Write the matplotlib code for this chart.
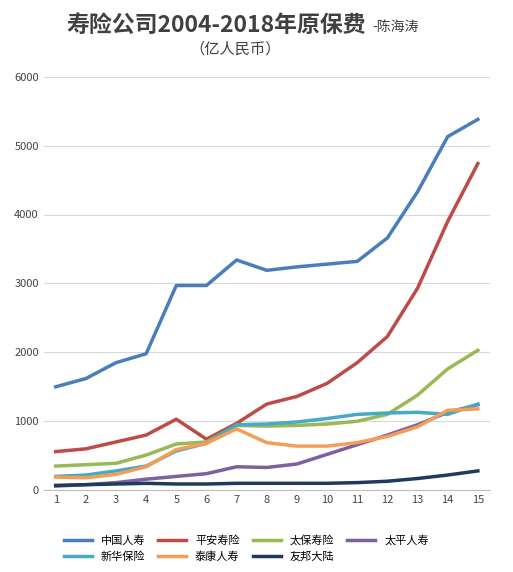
import matplotlib.pyplot as plt

plt.rcParams['font.family'] = ['Noto Sans CJK SC', 'DejaVu Sans']

years = list(range(1, 16))
names = ["中国人寿", "平安寿险", "太保寿险", "太平人寿", "新华保险", "泰康人寿", "友邦大陆"]
colors = ["#4a7ebb", "#be4b48", "#98b954", "#7d60a0", "#46aac5", "#f59d56", "#1f3a5f"]
china_life = [1500, 1620, 1850, 1980, 2970, 2970, 3340, 3190, 3240, 3280, 3320, 3660, 4330, 5130, 5380]
pingan = [560, 600, 700, 800, 1030, 740, 970, 1250, 1360, 1550, 1850, 2230, 2930, 3900, 4740]
cpic = [350, 370, 390, 510, 670, 700, 940, 930, 940, 960, 1000, 1100, 1380, 1760, 2030]
taiping = [60, 80, 110, 160, 200, 240, 340, 330, 380, 520, 660, 800, 950, 1130, 1240]
xinhua = [200, 220, 280, 350, 570, 680, 950, 960, 990, 1040, 1100, 1120, 1130, 1100, 1250]
taikang = [190, 180, 230, 340, 590, 680, 890, 690, 640, 640, 690, 780, 920, 1160, 1180]
aia = [70, 80, 90, 100, 90, 90, 100, 100, 100, 100, 110, 130, 170, 220, 280]
series = [china_life, pingan, cpic, taiping, xinhua, taikang, aia]

fig = plt.figure(figsize=(5.13, 5.72), dpi=100)
ax = fig.add_axes([0.085, 0.143, 0.87, 0.723])
lines = []
for name, vals, c in zip(names, series, colors):
    ln, = ax.plot(years, vals, color=c, lw=2.5, label=name)
    lines.append(ln)

ax.set_xlim(0.6, 15.4)
ax.set_ylim(0, 6000)
ax.set_xticks(years)
ax.set_yticks(range(0, 6001, 1000))
ax.tick_params(labelsize=8, length=0, colors="#444444")
ax.grid(axis="y", color="#d9d9d9", lw=0.8)
ax.set_axisbelow(True)
for s in ["top", "right", "left"]:
    ax.spines[s].set_visible(False)
ax.spines["bottom"].set_color("#bfbfbf")

fig.text(0.13, 0.955, "寿险公司2004-2018年原保费", fontsize=16.5, fontweight="bold", color="#404040", va="center")
fig.text(0.725, 0.952, "-陈海涛", fontsize=10, color="#404040", va="center")
fig.text(0.37, 0.915, "（亿人民币）", fontsize=11, color="#404040", va="center")

# row-major order in a column-major legend
order = [0, 4, 1, 5, 2, 6, 3]
fig.legend([lines[i] for i in order], [names[i] for i in order],
           loc="lower center", bbox_to_anchor=(0.48, 0.0), ncol=4, frameon=False,
           fontsize=8, handlelength=2.5, columnspacing=1.2)
fig.savefig("out.png")
